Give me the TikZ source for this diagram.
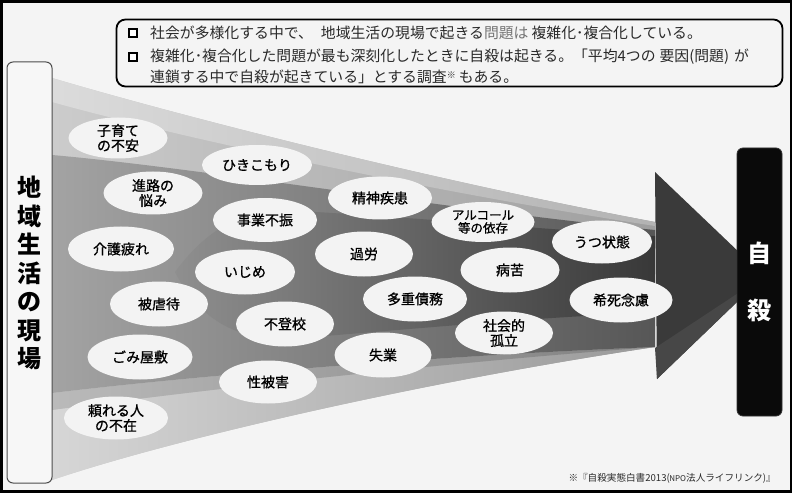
\documentclass[tikz,border=0pt]{standalone}
\usepackage{fontspec}
\setmainfont{Noto Sans CJK JP}
\newfontfamily\bubfont[FakeBold=0.9]{Noto Sans CJK JP}
\usetikzlibrary{shapes.geometric}
\definecolor{bg}{HTML}{F4F4F4}
\definecolor{bubfill}{HTML}{F3F3F3}
\definecolor{txt}{HTML}{2A2A2A}
\definecolor{headc}{HTML}{3A3A3A}
\definecolor{headlow}{HTML}{474747}
\begin{document}
\begin{tikzpicture}[x=1pt,y=-1pt,
  bub/.style={ellipse, fill=bubfill, inner sep=0pt, align=center, text=black,
    font=\bubfont\fontsize{14}{15}\selectfont},
  topline/.style={anchor=west, inner sep=0pt, text=txt, font=\fontsize{14.85}{16}\selectfont},
  bulletbox/.style={draw=black, line width=1.6pt, minimum size=8.5pt, inner sep=0pt, fill=white},
]
\useasboundingbox (0,0) rectangle (794,494);
% frame and background
\draw[line width=2.6pt, fill=bg] (1.3,1.3) rectangle (791,491.5);

% ---------- funnel bands ----------
% base light band
\path[left color=black!20, right color=black!38]
  (52,78) .. controls (170,113) and (420,178) .. (655,222) -- (655,347)
  .. controls (420,382) and (170,440) .. (52,480) -- cycle;
% top lightest band
\path[left color=black!14, right color=black!30]
  (52,78) .. controls (170,113) and (420,178) .. (655,222) -- (655,226)
  .. controls (420,190) and (170,135) .. (52,102) -- cycle;
% bottom lightest band
\path[left color=black!16, right color=black!40]
  (52,410) .. controls (200,390) and (450,362) .. (655,347)
  .. controls (420,382) and (170,440) .. (52,480) -- cycle;
% bottom second band
\path[left color=black!27, right color=black!50]
  (52,393) .. controls (200,375) and (450,355) .. (655,347)
  .. controls (450,362) and (200,390) .. (52,410) -- cycle;
% medium band
\path[left color=black!36, right color=black!66]
  (52,155) .. controls (200,168) and (450,210) .. (655,230) -- (655,347)
  .. controls (450,355) and (200,375) .. (52,393) -- cycle;
% dark core
\path[left color=black!44, right color=black!78]
  (175,272) .. controls (215,218) and (255,208) .. (300,211)
  .. controls (450,220) and (550,230) .. (655,236) -- (655,313)
  .. controls (550,316) and (450,326) .. (300,338)
  .. controls (250,342) and (205,330) .. (175,272) -- cycle;

% ---------- arrow head ----------
\fill[headc] (655,172) -- (764,276) -- (657,379) -- cycle;
\fill[headlow] (655,348) -- (764,276) -- (657,379) -- cycle;

% ---------- boxes ----------
\node[draw=black!70, line width=1pt, fill=white!97!black, rounded corners=6pt,
  minimum width=45pt, minimum height=421pt, inner sep=0pt] (genba) at (29.5,272.5) {};
\node[align=center, inner sep=0pt, text=black,
  font=\fontsize{24}{28.5}\selectfont\bfseries] (genbatxt) at (29.5,273)
  {地\\域\\生\\活\\の\\現\\場};

\node[draw=black!80, line width=0.8pt, fill=black!96, rounded corners=6pt,
  minimum width=45pt, minimum height=268pt, inner sep=0pt, align=center,
  text=white, font=\fontsize{24}{57}\selectfont\bfseries] (jisatsu) at (759.5,282) {自\\殺};

\node[draw=black, line width=1.8pt, fill=bg, rounded corners=9pt,
  minimum width=666pt, minimum height=67pt, inner sep=0pt] (topbox) at (449.5,53) {};
\node[bulletbox] (b1) at (133,33) {};
\node[bulletbox] (b2) at (133,57) {};
\node[topline] (t1) at (150,33) {社会が多様化する中で、\hspace{8pt}地域生活の現場で起きる{\color{black!55}問題は}\hspace{3pt}複雑化･複合化している。};
\node[topline] (t2) at (150,57) {複雑化･複合化した問題が最も深刻化したときに自殺は起きる。「平均4つの\hspace{4pt}要因(問題)\hspace{5pt}が};
\node[topline] (t3) at (150,77) {連鎖する中で自殺が起きている」とする調査\raisebox{4pt}{\fontsize{9}{9}\selectfont ※}\hspace{3pt}もある。};

% ---------- problem bubbles ----------
\node[bub, minimum width=99pt, minimum height=41pt] (kosodate) at (118,138) {子育て\\の不安};
\node[bub, minimum width=110pt, minimum height=40pt] (hikikomori) at (257,165) {ひきこもり};
\node[bub, minimum width=99pt, minimum height=43pt] (shinro) at (153,193) {進路の\\悩み};
\node[bub, minimum width=104pt, minimum height=44pt] (jigyou) at (265,220) {事業不振};
\node[bub, minimum width=104pt, minimum height=43pt] (seishin) at (380,198) {精神疾患};
\node[bub, minimum width=103pt, minimum height=40pt, font=\bubfont\fontsize{12.5}{13}\selectfont] (alcohol) at (483,222) {アルコール\\等の依存};
\node[bub, minimum width=100pt, minimum height=43pt] (utsu) at (602,242) {うつ状態};
\node[bub, minimum width=106pt, minimum height=45pt] (kaigo) at (121,249) {介護疲れ};
\node[bub, minimum width=100pt, minimum height=45pt] (ijime) at (245,272) {いじめ};
\node[bub, minimum width=98pt, minimum height=45pt] (karou) at (364,254) {過労};
\node[bub, minimum width=99pt, minimum height=45pt] (byouku) at (510,270) {病苦};
\node[bub, minimum width=98pt, minimum height=45pt] (gyakutai) at (159,304) {被虐待};
\node[bub, minimum width=104pt, minimum height=45pt] (saimu) at (415,299) {多重債務};
\node[bub, minimum width=103pt, minimum height=45pt] (kishi) at (621,300) {希死念慮};
\node[bub, minimum width=98pt, minimum height=45pt] (futoukou) at (285,324) {不登校};
\node[bub, minimum width=98pt, minimum height=43pt] (koritsu) at (504,333) {社会的\\孤立};
\node[bub, minimum width=105pt, minimum height=45pt] (gomi) at (140,357) {ごみ屋敷};
\node[bub, minimum width=97pt, minimum height=45pt] (shitsugyou) at (383,355) {失業};
\node[bub, minimum width=98pt, minimum height=43pt] (seihigai) at (268,382) {性被害};
\node[bub, minimum width=104pt, minimum height=43pt] (tayoreru) at (116,418) {頼れる人\\の不在};

% ---------- footnote ----------
\node[anchor=east, inner sep=0pt, text=txt, font=\fontsize{9.6}{12}\selectfont] (note) at (776,478)
  {※『自殺実態白書2013(\hspace{-0.5pt}{\fontsize{8}{10}\selectfont NPO}法人ライフリンク)』};
\end{tikzpicture}
\end{document}
